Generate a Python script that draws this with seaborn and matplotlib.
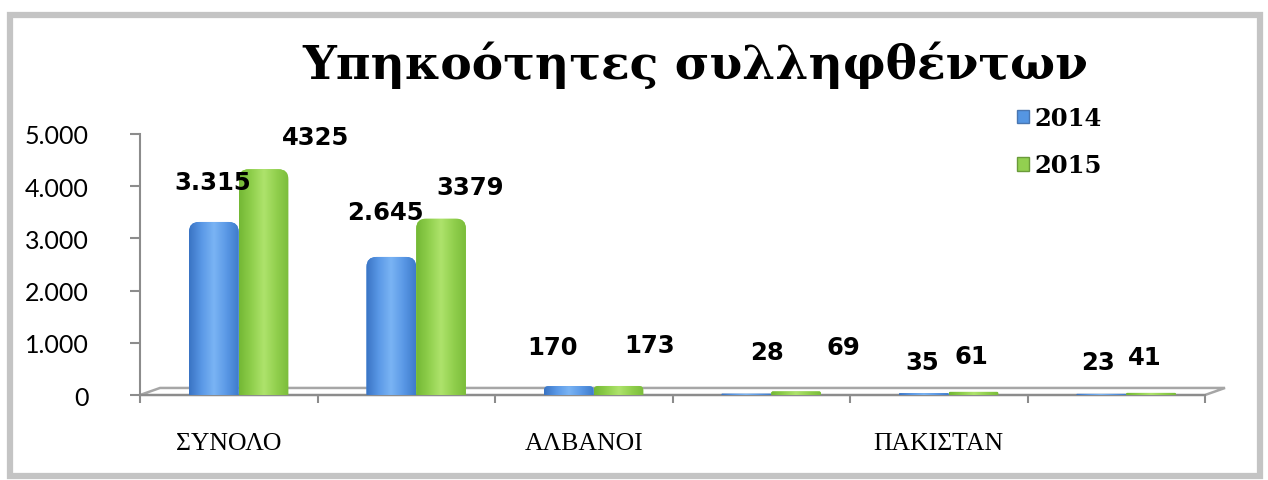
import numpy as np
import pandas as pd
import matplotlib
matplotlib.use("Agg")
import matplotlib.pyplot as plt
import seaborn as sns
from matplotlib.patches import FancyBboxPatch, Polygon, Rectangle, Patch
from matplotlib.colors import LinearSegmentedColormap
from matplotlib.ticker import FuncFormatter

# data
tick_labels = ["ΣΥΝΟΛΟ", "", "ΑΛΒΑΝΟΙ", "", "ΠΑΚΙΣΤΑΝ", ""]
years = ["2014", "2015"]
values_2014 = [3315, 2645, 170, 28, 35, 23]
values_2015 = [4325, 3379, 173, 69, 61, 41]

df = pd.DataFrame({
    "group": list(range(len(tick_labels))) * 2,
    "year": [years[0]] * len(values_2014) + [years[1]] * len(values_2015),
    "value": values_2014 + values_2015,
})

# colours / label offsets (pixels from the bar top)
blue, green = "#5596e3", "#92d050"
blue_grad = ["#3a74c4", "#5a98e6", "#7ab4f4", "#5b99e6", "#3f7ccc"]
green_grad = ["#74b835", "#8fcf4c", "#aee36c", "#92d04e", "#7bbd3b"]
dx_2014 = [-1, -6, -16, 21, -2, -3]
dy_2014 = [40, 45, 39, 42, 31, 32]
dx_2015 = [52, 29, 31, 47, -2, -6]
dy_2015 = [32, 32, 41, 44, 36, 36]

sns.set_style("white")
plt.rcParams.update({"text.color": "black", "xtick.color": "black", "ytick.color": "black"})

fig = plt.figure(figsize=(12.68, 4.81), dpi=100)
W, H = 1268, 481
x_left, x_right, y_base, y_top = 140, 1205, 396, 135
ax = fig.add_axes([x_left / W, 1 - y_base / H, (x_right - x_left) / W, (y_base - y_top) / H])

sns.barplot(data=df, x="group", y="value", hue="year", palette=[blue, green],
            width=0.56, gap=0, saturation=1, legend=False, ax=ax, zorder=2)

shift = 0.056
# pixel -> data scale for rounded tops
px_x = len(tick_labels) / (x_right - x_left)
px_y = 5000 / (y_base - y_top)
aspect = px_y / px_x
r_x = 10 * px_x

for cont, grad in zip(ax.containers, [blue_grad, green_grad]):
    cmap = LinearSegmentedColormap.from_list("g", grad)
    for bar in cont:
        x0, w, h = bar.get_x(), bar.get_width(), bar.get_height()
        r = min(r_x, (h / aspect) / 2, w / 2)
        ry = r * aspect
        fb = FancyBboxPatch((x0, -ry), w, h + ry, boxstyle=f"round,pad=0,rounding_size={r}",
                            mutation_aspect=aspect, transform=ax.transData,
                            facecolor="none", edgecolor="none")
        ax.add_patch(fb)
        bar.set_clip_path(fb)
        bar.set_edgecolor("none")
        img = ax.imshow(np.linspace(0, 1, 64).reshape(1, -1), extent=(x0, x0 + w, 0, h),
                        aspect="auto", cmap=cmap, zorder=3, interpolation="bicubic")
        img.set_clip_path(fb)

ax.set_xlim(-0.5 - shift, len(tick_labels) - 0.5 - shift)
ax.set_ylim(0, 5000)

# value labels
for cont, dxs, dys, fmt in zip(ax.containers, [dx_2014, dx_2015], [dy_2014, dy_2015],
                               [lambda v: f"{v:,}".replace(",", "."), lambda v: str(v)]):
    for bar, dx, dy in zip(cont, dxs, dys):
        v = int(round(bar.get_height()))
        ax.annotate(fmt(v), xy=(bar.get_x() + bar.get_width() / 2, bar.get_height()),
                    xytext=(dx, dy), textcoords="offset pixels", ha="center", va="center",
                    fontsize=17.5, fontweight="bold", family="DejaVu Sans", color="black",
                    annotation_clip=False, zorder=5)

# 3d floor
floor = Polygon([(0, 0), (1.0, 0), (1.0188, 0.027), (0.0188, 0.027)], closed=True,
                transform=ax.transAxes, facecolor="white", edgecolor="#a6a6a6",
                linewidth=1.8, clip_on=False, zorder=1)
ax.add_patch(floor)

# axes styling
for s in ["top", "right"]:
    ax.spines[s].set_visible(False)
for s in ["left", "bottom"]:
    ax.spines[s].set_color("#8c8c8c")
    ax.spines[s].set_linewidth(1.5)

ax.set_yticks(range(0, 5001, 1000))
ax.yaxis.set_major_formatter(FuncFormatter(lambda v, p: f"{int(v):,}".replace(",", ".")))
ax.tick_params(axis="y", which="major", left=True, length=7, width=1.5, color="#8c8c8c",
               labelcolor="black", pad=30, labelsize=18)
for t in ax.get_yticklabels():
    t.set_family("Lato")

ax.set_xticks([k - 0.5 - shift for k in range(len(tick_labels) + 1)])
ax.set_xticklabels([])
ax.set_xticks([k - shift for k in range(len(tick_labels))], minor=True)
ax.set_xticklabels(tick_labels, minor=True, family="Liberation Serif", fontsize=18.5)
ax.tick_params(axis="x", which="major", bottom=True, length=6, width=1.5, color="#8c8c8c")
ax.tick_params(axis="x", which="minor", bottom=False, length=0, pad=27, labelcolor="black")
ax.set_xlabel("")
ax.set_ylabel("")

# title and legend
fig.text(695 / W, 1 - 65 / H, "Υπηκοότητες συλληφθέντων", ha="center", va="center",
         family="DejaVu Serif", fontweight="bold", fontsize=34, color="black")
handles = [Patch(facecolor=blue, edgecolor="#4a76b0"), Patch(facecolor=green, edgecolor="#6a9a3a")]
fig.legend(handles, years, loc="upper left", bbox_to_anchor=(1005 / W, 1 - 95 / H),
           frameon=False, borderpad=0, handlelength=0.5, handleheight=0.5,
           handletextpad=0.2, labelspacing=0.95,
           prop={"family": "DejaVu Serif", "weight": "bold", "size": 17.5})

# outer chart frame
fig.patches.append(Rectangle((10 / W, 4 / H), 1250 / W, 461 / H, transform=fig.transFigure,
                             fill=False, edgecolor="#c4c4c4", linewidth=4.5))

fig.savefig("out.png", dpi=100)
